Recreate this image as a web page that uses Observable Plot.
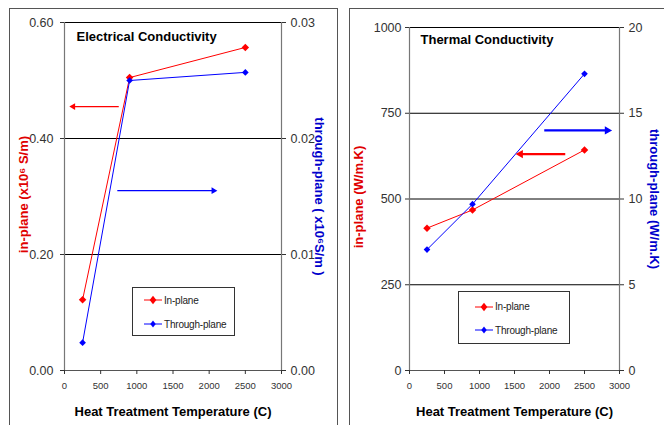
<!DOCTYPE html>
<html>
<head>
<meta charset="utf-8">
<script src="https://cdn.jsdelivr.net/npm/d3@7"></script>
<script src="https://cdn.jsdelivr.net/npm/@observablehq/plot@0.6"></script>
<style>
  html, body { margin: 0; padding: 0; background: white; }
  #wrap { position: relative; width: 664px; height: 425px; overflow: hidden; background: white; font-family: "Liberation Sans", Arial, sans-serif; }
  .panel { position: absolute; top: 0; }
  .panel svg { background: transparent !important; overflow: visible; }
  .frame { position: absolute; border: 1.5px solid #555; pointer-events: none; z-index: 5; }
  .legend { position: absolute; border: 1px solid #333; background: white; z-index: 4; font-family: "Liberation Sans", Arial, sans-serif; font-size: 10px; letter-spacing: -0.2px; color: #222; }
  .legend .item { position: absolute; display: flex; align-items: center; white-space: nowrap; }
  .legend svg { display: block; }
</style>
</head>
<body>
<div id="wrap"></div>
<script>
// ---------- data ----------
const temps = [250, 900, 2500];
const elecIn = [0.122, 0.505, 0.557];          // x10^6 S/m (left axis)
const elecThrough = [0.0024, 0.0250, 0.0257];  // x10^6 S/m (right axis)
const thermIn = [415, 468, 643];               // W/m.K (left axis)
const thermThrough = [7.05, 9.7, 17.3];        // W/m.K (right axis)

const xTicks = [0, 500, 1000, 1500, 2000, 2500, 3000];
const elecLeftTicks = [0, 0.2, 0.4, 0.6];
const elecRightTicks = [0, 0.01, 0.02, 0.03];
const thermLeftTicks = [0, 250, 500, 750, 1000];
const thermRightTicks = [0, 5, 10, 15, 20];

const seriesNames = ["In-plane", "Through-plane"];
const seriesColors = ["#ff0000", "#0000ff"];

// annotation arrows (x from, x to, level in own axis units)
const elecArrowFrom = [750, 730];
const elecArrowTo = [120, 2060];
const elecArrowLevel = [0.455, 0.0155];
const thermArrowFrom = [2225, 1925];
const thermArrowTo = [1585, 2825];
const thermArrowLevel = [631, 14.0];

const xLabel = "Heat Treatment Temperature (C)";

function makePanel(cfg) {
  const ratio = cfg.leftMax / cfg.rightMax;
  const rows = [];
  temps.forEach((t, i) => {
    rows.push({t, v: cfg.inVals[i], s: 0});
    rows.push({t, v: cfg.throughVals[i] * ratio, s: 1});
  });
  const arrows = cfg.arrowFrom.map((a, i) => ({
    x1: a, x2: cfg.arrowTo[i],
    y: i === 0 ? cfg.arrowLevel[i] : cfg.arrowLevel[i] * ratio, s: i
  }));
  const font = '"Liberation Sans", Arial, sans-serif';
  return Plot.plot({
    width: 332, height: 425,
    marginLeft: cfg.ml, marginRight: cfg.mr, marginTop: cfg.mt, marginBottom: 55,
    style: {fontFamily: font, fontSize: "12.5px", color: "#333", background: "transparent"},
    x: {domain: [0, 3000]},
    y: {domain: [0, cfg.leftMax]},
    marks: [
      Plot.ruleY(cfg.leftTicks.filter(d => d > 0), {stroke: "#000", strokeWidth: 1}),
      Plot.ruleX([0, 3000], {stroke: "#777", strokeWidth: 1.2}),
      Plot.ruleY([0], {stroke: "#555", strokeWidth: 1.2}),
      Plot.axisY(cfg.leftTicks, {anchor: "left", tickSize: 4, tickPadding: cfg.lp, tickFormat: cfg.leftFmt, label: null, fill: "#333", fontSize: 12.5}),
      Plot.axisY(cfg.rightTicks.map(d => d * ratio), {anchor: "right", tickSize: 4, tickPadding: 5, tickFormat: d => cfg.rightFmt(d / ratio), label: null, fill: "#333", fontSize: 12.5}),
      Plot.axisX(xTicks, {anchor: "bottom", tickSize: 4, tickPadding: 8, tickFormat: d3.format("d"), label: null, fill: "#333", fontSize: 9.5}),
      Plot.line(rows, {x: "t", y: "v", z: "s", stroke: d => seriesColors[d.s], strokeWidth: 1}),
      Plot.dot(rows, {x: "t", y: "v", symbol: "diamond2", r: d => d.s === 0 ? 4.6 : 3.6, fill: d => seriesColors[d.s], stroke: "none"}),
      Plot.link(arrows, {x1: "x1", x2: "x2", y1: "y", y2: "y", stroke: d => seriesColors[d.s], strokeWidth: cfg.aw}),
      Plot.dot(arrows, {x: "x2", y: "y", symbol: "triangle2", r: cfg.ar, rotate: d => d.x2 > d.x1 ? 90 : -90, fill: d => seriesColors[d.s], stroke: "none"}),
      Plot.text([cfg.title], {frameAnchor: "top-left", dx: cfg.tdx, dy: cfg.tdy, textAnchor: "start", lineAnchor: "top", fontWeight: "bold", fontSize: 13, fill: "#000"}),
      Plot.text([cfg.leftTitle], {frameAnchor: "left", dx: cfg.ldx, dy: -2, rotate: -90, textAnchor: "middle", lineAnchor: "middle", fontWeight: "bold", fontSize: 13, fill: "#e00000"}),
      Plot.text([cfg.rightTitle], {frameAnchor: "right", dx: cfg.rdx, dy: 0, rotate: 90, textAnchor: "middle", lineAnchor: "middle", fontWeight: "bold", fontSize: 13, fill: "#0000cc"}),
      Plot.text([xLabel], {frameAnchor: "bottom", dy: 36, lineAnchor: "top", fontWeight: "bold", fontSize: 13, fill: "#000"})
    ]
  });
}

const wrap = document.getElementById("wrap");
const p1 = makePanel({
  leftMax: 0.6, rightMax: 0.03, inVals: elecIn, throughVals: elecThrough,
  leftTicks: elecLeftTicks, rightTicks: elecRightTicks,
  leftFmt: d3.format(".2f"), rightFmt: d3.format(".2f"),
  arrowFrom: elecArrowFrom, arrowTo: elecArrowTo, arrowLevel: elecArrowLevel, aw: 1.3, ar: 3.2,
  ml: 64, mr: 51, mt: 22, lp: 7,
  title: "Electrical Conductivity", tdx: 12, tdy: 9,
  leftTitle: "in-plane (x10⁶ S/m)", ldx: -41,
  rightTitle: "through-plane ( x10⁶S/m )", rdx: 38
});
const p2 = makePanel({
  leftMax: 1000, rightMax: 20, inVals: thermIn, throughVals: thermThrough,
  leftTicks: thermLeftTicks, rightTicks: thermRightTicks,
  leftFmt: d3.format("d"), rightFmt: d3.format("d"),
  arrowFrom: thermArrowFrom, arrowTo: thermArrowTo, arrowLevel: thermArrowLevel, aw: 2.2, ar: 4,
  ml: 77, mr: 45, mt: 27, lp: 4,
  title: "Thermal Conductivity", tdx: 11, tdy: 7,
  leftTitle: "in-plane (W/m.K)", ldx: -51,
  rightTitle: "through-plane (W/m.K)", rdx: 35
});
const d1 = document.createElement("div"); d1.className = "panel"; d1.style.left = "0px"; d1.appendChild(p1); wrap.appendChild(d1);
const d2 = document.createElement("div"); d2.className = "panel"; d2.style.left = "332px"; d2.appendChild(p2); wrap.appendChild(d2);

// panel frames
[[9, 8, 327, 430], [349, 8, 330, 430]].forEach(([l, t, w, h]) => {
  const f = document.createElement("div");
  f.className = "frame";
  Object.assign(f.style, {left: l + "px", top: t + "px", width: w + "px", height: h + "px"});
  wrap.appendChild(f);
});

// legends
function legend(left, top, w, h, rowY, lineX, lineW, textX) {
  const box = document.createElement("div");
  box.className = "legend";
  Object.assign(box.style, {left: left + "px", top: top + "px", width: w + "px", height: h + "px"});
  seriesNames.forEach((name, i) => {
    const item = document.createElement("div");
    item.className = "item";
    Object.assign(item.style, {left: lineX + "px", top: (rowY[i] - 7) + "px", height: "14px"});
    const r = i === 0 ? 4.2 : 3.4;
    const c = seriesColors[i];
    const m = lineW / 2;
    item.innerHTML = `<svg width="${lineW}" height="14"><line x1="0" y1="7" x2="${lineW}" y2="7" stroke="${c}" stroke-width="1"/><path d="M${m},${7 - r}L${m + r * 0.8},7L${m},${7 + r}L${m - r * 0.8},7Z" fill="${c}"/></svg><span style="margin-left:${textX - lineX - lineW}px">${name}</span>`;
    box.appendChild(item);
  });
  wrap.appendChild(box);
}
legend(132, 287, 101, 47, [12, 36], 11, 18, 31);
legend(458, 291, 110, 51, [14.5, 38], 16, 18, 36);
</script>
</body>
</html>
